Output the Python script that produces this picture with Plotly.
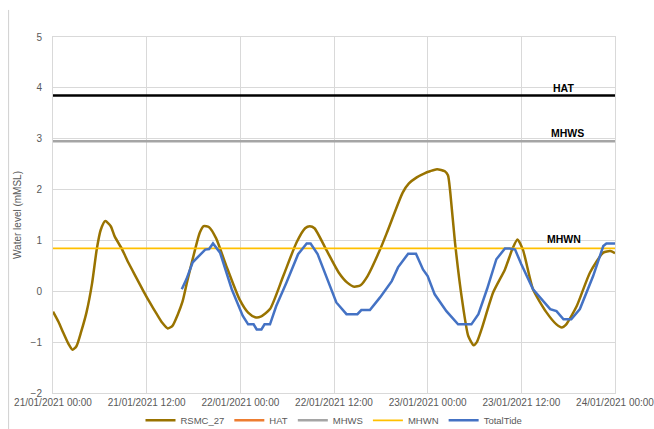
import pandas as pd
import plotly.graph_objects as go

START = pd.Timestamp("2021-01-21 00:00")
END = pd.Timestamp("2021-01-24 00:00")

# RSMC_27: hours after start, water level (mMSL)
rsmc_hours = [0, 0.7, 1.3, 2.0, 2.5, 3.0, 3.6, 4.3, 5.0, 5.6, 6.1, 6.7, 7.4, 7.9, 8.8,
              9.7, 10.7, 11.6, 12.4, 13.3, 14.0, 14.7, 15.3, 16.0, 16.6, 17.2, 18.2, 18.8,
              19.3, 20.0, 20.9, 22.2, 23.9, 25.0, 25.9, 26.6, 27.8, 29.5, 31.2, 32.3, 32.9,
              33.5, 35.0, 36.6, 37.7, 38.6, 39.4, 40.3, 41.9, 42.9, 44.8, 45.6, 46.6, 47.6,
              48.3, 49.2, 50.2, 50.6, 50.9, 51.5, 52.4, 53.2, 53.9, 54.3, 54.9, 56.4, 57.9,
              58.9, 59.5, 60.2, 61.5, 63.2, 64.5, 65.2, 65.7, 67.1, 68.8, 70.5, 71.4, 72.0]
rsmc_values = [-0.40, -0.60, -0.81, -1.04, -1.15, -1.08, -0.80, -0.41, 0.15, 0.82, 1.20, 1.38,
               1.28, 1.08, 0.84, 0.55, 0.26, 0.00, -0.22, -0.45, -0.62, -0.73, -0.68, -0.45,
               -0.20, 0.20, 0.82, 1.15, 1.28, 1.26, 1.04, 0.50, -0.16, -0.42, -0.51, -0.50,
               -0.35, 0.30, 0.96, 1.24, 1.28, 1.24, 0.82, 0.37, 0.17, 0.09, 0.12, 0.30, 0.82,
               1.20, 1.94, 2.12, 2.24, 2.32, 2.36, 2.40, 2.36, 2.28, 1.94, 0.96, -0.16, -0.88,
               -1.06, -1.00, -0.75, -0.02, 0.43, 0.85, 1.02, 0.82, 0.04, -0.41, -0.65, -0.71,
               -0.66, -0.29, 0.37, 0.76, 0.79, 0.75]

# TotalTide
tide_hours = [16.5, 17.1, 17.9, 19.5, 20.0, 20.5, 21.4, 22.9, 24.3, 25.0, 25.7, 26.1, 26.7,
              27.1, 27.8, 28.6, 29.9, 31.4, 32.5, 33.0, 33.9, 35.1, 36.3, 37.6, 39.0, 39.5,
              40.6, 41.9, 43.4, 44.2, 45.5, 46.5, 47.4, 48.0, 48.9, 50.4, 51.9, 53.6, 54.5,
              55.6, 56.8, 57.9, 58.5, 59.2, 60.0, 61.5, 62.4, 63.7, 64.5, 65.4, 66.4, 67.5,
              69.2, 70.5, 70.9, 72.0]
tide_values = [0.04, 0.24, 0.57, 0.82, 0.83, 0.94, 0.76, 0.04, -0.48, -0.65, -0.65, -0.75,
               -0.75, -0.65, -0.65, -0.29, 0.17, 0.73, 0.94, 0.94, 0.73, 0.24, -0.22, -0.45,
               -0.45, -0.37, -0.37, -0.12, 0.20, 0.47, 0.74, 0.74, 0.43, 0.30, -0.06, -0.39,
               -0.65, -0.65, -0.45, 0.04, 0.63, 0.84, 0.84, 0.82, 0.53, 0.04, -0.12, -0.35,
               -0.39, -0.55, -0.55, -0.35, 0.30, 0.89, 0.94, 0.94]

HAT = 3.85
MHWS = 2.95
MHWN = 0.845

y_ticks = [-2, -1, 0, 1, 2, 3, 4, 5]

rsmc_x = [START + pd.Timedelta(hours=h) for h in rsmc_hours]
tide_x = [START + pd.Timedelta(hours=h) for h in tide_hours]
span_x = [START, END]

FONT = "Liberation Sans"
GREY = "#595959"
GRID = "#D9D9D9"

fig = go.Figure()
fig.add_trace(go.Scatter(x=span_x, y=[HAT, HAT], mode="lines", showlegend=False,
                         line=dict(color="#000000", width=2.5), hoverinfo="skip"))
fig.add_trace(go.Scatter(x=rsmc_x, y=rsmc_values, mode="lines", name="RSMC_27",
                         line=dict(color="#997300", width=2.5, shape="spline", smoothing=0.6)))
fig.add_trace(go.Scatter(x=[None], y=[None], mode="lines", name="HAT",
                         line=dict(color="#ED7D31", width=2.5)))
fig.add_trace(go.Scatter(x=span_x, y=[MHWS, MHWS], mode="lines", name="MHWS",
                         line=dict(color="#A5A5A5", width=2.5)))
fig.add_trace(go.Scatter(x=span_x, y=[MHWN, MHWN], mode="lines", name="MHWN",
                         line=dict(color="#FFC000", width=1.8)))
fig.add_trace(go.Scatter(x=tide_x, y=tide_values, mode="lines", name="TotalTide",
                         line=dict(color="#4472C4", width=2.5)))

for txt, xc, yc in [("HAT", 0.909, 4.0), ("MHWS", 0.916, 3.12), ("MHWN", 0.91, 1.02)]:
    fig.add_annotation(x=xc, xref="paper", y=yc, yref="y", text=f"<b>{txt}</b>",
                       xanchor="center", yanchor="middle",
                       showarrow=False, font=dict(family=FONT, size=10.5, color="#000000"))

# outer chart frame edge (left)
fig.add_shape(type="line", xref="paper", yref="paper", x0=-0.079, x1=-0.079,
              y0=1.076, y1=-0.11, line=dict(color="#D0D0D0", width=1))

fig.update_layout(
    width=654, height=429,
    margin=dict(l=53, r=39, t=37, b=36, autoexpand=False),
    paper_bgcolor="white", plot_bgcolor="white",
    font=dict(family=FONT, size=10, color=GREY),
    showlegend=True,
    legend=dict(orientation="h", x=0.5, xanchor="center", y=-0.036, yanchor="top",
                font=dict(family=FONT, size=9.5, color=GREY), itemwidth=30,
                tracegroupgap=0, bgcolor="rgba(0,0,0,0)"),
)
fig.update_xaxes(
    type="date", range=[START, END], dtick=12 * 3600 * 1000, tick0=START,
    tickformat="%d/%m/%Y %H:%M", showgrid=True, gridcolor=GRID, gridwidth=1,
    showline=True, linecolor=GRID, mirror=True, zeroline=False, ticks="",
    automargin=False, ticklabeloverflow="allow",
    tickfont=dict(family=FONT, size=10, color=GREY),
)
fig.update_yaxes(
    range=[-2, 5], tickvals=y_ticks, showgrid=True, gridcolor=GRID, gridwidth=1,
    showline=True, linecolor=GRID, mirror=True, zeroline=False, ticks="",
    ticklabelstandoff=8, automargin=False,
    title=dict(text="Water level (mMSL)", font=dict(family=FONT, size=10, color=GREY), standoff=7),
    tickfont=dict(family=FONT, size=10, color=GREY),
)

fig.write_html(
    "out.html",
    config={"displayModeBar": False},
    post_script="document.body.style.margin='0';document.body.style.padding='0';"
                "document.body.style.overflow='hidden';",
)
